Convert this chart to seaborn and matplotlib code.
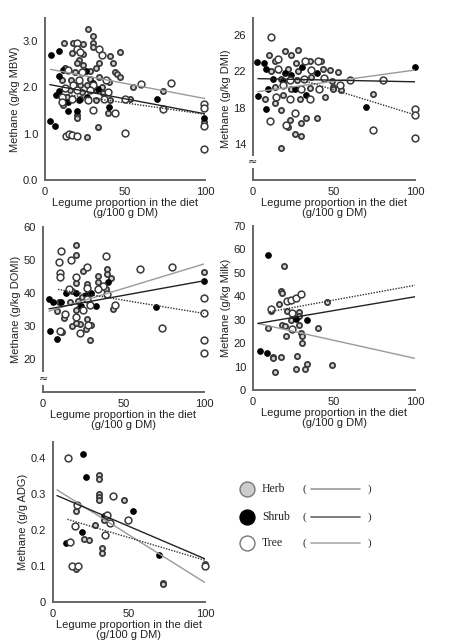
import matplotlib
matplotlib.use("Agg")
import matplotlib.pyplot as plt
import seaborn as sns
import pandas as pd

sns.set_style("white")
plt.rcParams['font.family'] = ['Liberation Sans', 'DejaVu Sans']

# ---- data: (legume %, methane) ----
mbw_herb = [(27, 3.26), (30, 3.11), (12, 2.95), (17.3, 2.95), (23.5, 2.94), (29.8, 2.95), (30, 2.88),
            (17, 2.75), (24, 2.73), (40.6, 2.68), (46.9, 2.77), (21, 2.59), (20, 2.52), (23.5, 2.48),
            (34, 2.52), (42.7, 2.52), (12.5, 2.41), (18.8, 2.34), (28, 2.36), (32, 2.41), (44, 2.34),
            (45, 2.29), (47, 2.23), (16, 2.16), (28, 2.19), (34, 2.22), (40, 2.12), (22, 2.05), (26, 2.05),
            (35.4, 2.01), (15.6, 1.94), (23, 1.91), (32, 1.94), (55, 2.0), (74, 1.93), (13.5, 1.8),
            (22, 1.76), (32, 1.73), (40.6, 1.73), (53, 1.76), (11.5, 1.62), (39.6, 1.45), (20, 1.4),
            (20, 1.33), (99.4, 1.26), (33, 1.14), (26.5, 0.92), (36.5, 1.87), (10.4, 2.16)]
mbw_tree = [(20, 2.95), (34, 2.84), (19.8, 2.84), (22, 2.77), (35.4, 2.7), (14.6, 2.37), (22.9, 2.34),
            (21, 2.16), (38, 2.16), (17.7, 2.05), (30, 2.05), (12.5, 1.98), (19.8, 1.94), (28, 1.94),
            (39.6, 1.91), (59.8, 2.07), (79, 2.09), (10.4, 1.8), (16.7, 1.76), (27, 1.73), (37, 1.74),
            (50, 1.76), (10.4, 1.69), (29.8, 1.51), (43.8, 1.44), (74, 1.53), (99.4, 1.64), (99.4, 1.55),
            (99.4, 1.17), (99.4, 0.68), (50, 1.01), (13, 0.94), (15, 1.0), (17, 0.97), (20, 0.95)]
mbw_shrub = [(3.75, 2.71), (9, 2.79), (3, 1.28), (6, 1.16), (11.5, 2.37), (9, 2.25), (9, 1.93), (7, 1.84),
             (14.6, 1.5), (14.6, 1.69), (25.4, 2.35), (33, 1.96), (30, 2.1), (26.5, 1.8), (40, 1.58),
             (70, 1.76), (99.6, 1.33), (21, 1.73), (20, 1.5)]
mbw_fit = {"Herb": [(3.5, 2.39), (100, 1.76)], "Shrub": [(3, 2.06), (100, 1.43)], "Tree": [(13, 1.85), (100, 1.42)]}

dmi_herb = [(9.7, 23.8), (13.4, 23.2), (20, 24.2), (23.7, 23.8), (27.8, 24.35), (26.8, 22.9), (35, 23.1),
            (42, 23.1), (11.3, 22.0), (21.6, 22.3), (27.8, 22.0), (43, 22.3), (47.4, 22.1), (52.6, 21.95),
            (17, 21.2), (27, 21.0), (36, 21.4), (48.5, 20.9), (13.4, 20.3), (23.7, 20.1), (35, 20.2),
            (49.5, 20.3), (7.2, 19.0), (18.6, 19.4), (29, 19.0), (44.3, 19.2), (74, 19.5), (13.4, 18.5),
            (17.5, 17.7), (33, 16.8), (39.8, 16.8), (22.7, 16.6), (29.9, 16.3), (21.6, 15.9), (25.8, 15.1),
            (29.5, 14.9), (17, 13.5), (54.6, 19.9), (49.5, 20.1)]
dmi_tree = [(11, 25.8), (15.5, 23.4), (32, 23.1), (40, 23.1), (15.5, 22.3), (36, 22.1), (23, 21.0),
            (31.4, 21.2), (44, 21.3), (53.6, 20.5), (60, 21.0), (80.4, 21.0), (18.6, 20.5), (29.9, 20.1),
            (41, 20.1), (14.4, 19.2), (22.7, 19.0), (35, 19.0), (25.8, 17.4), (10.3, 16.5), (20.6, 16.1),
            (74, 15.5), (100, 17.9), (100, 17.2), (100, 14.6)]
dmi_shrub = [(2.7, 23.06), (6.8, 22.9), (8.2, 22.3), (3, 19.3), (8.2, 17.9), (9.3, 20.0), (12.4, 21.2),
             (20, 21.85), (23.7, 21.6), (30, 22.5), (33, 19.4), (39.8, 21.85), (70, 18.1), (100, 22.5),
             (25.8, 20.1), (18.6, 20.95)]
dmi_fit = {"Herb": [(3, 19.76), (100, 22.15)], "Shrub": [(3, 21.2), (100, 20.85)], "Tree": [(13, 22.0), (100, 17.2)]}

dom_herb = [(20.3, 54.6), (20.7, 51.5), (24.9, 46.7), (39.8, 47.2), (34.2, 45.2), (39.8, 45.7), (42.5, 44.4),
            (100, 46.5), (27.4, 42.7), (34.2, 43.2), (20.3, 42.9), (18.3, 40.6), (39.4, 41.3), (24.5, 38.9),
            (21.8, 37.6), (16.6, 37.2), (43.6, 35.2), (22.4, 35.5), (8.7, 34.5), (13.1, 32.4), (27.4, 32.1),
            (18.3, 30.1), (22.8, 30.7), (30, 30.4), (26.6, 29.2), (11.6, 28.1), (29.5, 25.8), (20.7, 35.0),
            (9.8, 37.2), (20.3, 30.9)]
dom_tree = [(11.4, 52.6), (9.8, 49.5), (17.6, 50.1), (10.8, 46.2), (10.8, 44.7), (20.7, 44.7), (27.6, 47.8),
            (39.4, 51.1), (60, 47.2), (79.9, 47.8), (27.4, 41.6), (37.3, 42.0), (34.2, 41.1), (16.2, 41.1),
            (39.8, 39.6), (27.4, 38.1), (29, 36.5), (44.6, 36.5), (24.9, 35.0), (13.5, 33.5), (20.3, 32.8),
            (28.0, 30.4), (10.8, 28.4), (22.8, 27.9), (73.7, 29.4), (100, 38.6), (100, 33.8), (100, 25.8),
            (100, 21.9)]
dom_shrub = [(3.5, 38.1), (6.2, 37.2), (11.4, 37.2), (4.1, 28.4), (8.7, 26.0), (14.5, 39.9), (20.7, 39.9),
             (23.9, 36.0), (26.6, 39.3), (30, 39.9), (33.2, 36.0), (40.5, 43.2), (70, 35.7), (100, 43.7)]
dom_fit = {"Herb": [(3.7, 34.5), (100, 48.8)], "Shrub": [(3.7, 35.2), (100, 43.7)], "Tree": [(9.3, 41.1), (100, 33.8)]}

milk_herb = [(19.2, 52.8), (17.1, 42.3), (17.9, 41.2), (15.9, 36.9), (11.3, 33.8), (21.2, 33.8), (28.7, 33.4),
             (28.7, 31.5), (45.4, 37.6), (23.5, 29.8), (17.9, 27.7), (19.6, 27.3), (28.7, 27.7), (9.3, 26.3),
             (40.2, 26.3), (29.9, 24.4), (30.3, 23.0), (20.2, 23.0), (30.3, 20.2), (12.6, 14.2), (12.6, 13.5),
             (17.5, 13.9), (27.4, 14.6), (33.6, 11.1), (48.9, 10.7), (26.4, 8.9), (32.4, 8.8), (13.4, 7.5)]
milk_tree = [(21.2, 38.1), (23.3, 38.4), (26.8, 39.1), (29.9, 40.9), (10.9, 34.4), (24.3, 32.7), (24.1, 25.9)]
milk_shrub = [(9.3, 57.8), (4.5, 16.6), (8.7, 15.6), (26.8, 30.5), (33.4, 29.8)]
milk_fit = {"Herb": [(3, 28.4), (100, 13.5)], "Shrub": [(3, 28.4), (100, 39.8)], "Tree": [(10.3, 33.4), (100, 44.7)]}

adg_herb = [(30.1, 0.352), (30.1, 0.343), (30.1, 0.299), (30.1, 0.292), (30.1, 0.285), (46.8, 0.285),
            (15.4, 0.252), (33.6, 0.229), (27.9, 0.213), (20.4, 0.176), (23.7, 0.173), (32.3, 0.15),
            (32.3, 0.136), (72.5, 0.053), (72.5, 0.049), (100, 0.105), (15, 0.091)]
adg_tree = [(9.9, 0.4), (39.6, 0.294), (16, 0.269), (35.2, 0.241), (37.4, 0.219), (49.5, 0.227), (14.3, 0.21),
            (34.1, 0.185), (11.4, 0.167), (12.7, 0.1), (16.7, 0.1), (100, 0.1)]
adg_shrub = [(19.8, 0.412), (21.5, 0.347), (8.8, 0.164), (19.3, 0.194), (33.6, 0.238), (52.7, 0.253), (69.9, 0.13)]
adg_fit = {"Herb": [(2.6, 0.312), (100, 0.054)], "Shrub": [(2.6, 0.296), (100, 0.12)], "Tree": [(9.5, 0.23), (100, 0.116)]}

groups = ["Herb", "Shrub", "Tree"]
marker_style = {"Herb": dict(s=14, color="#d0d0d0", edgecolor="#3a3a3a", linewidth=1.3),
                "Shrub": dict(s=16, color="black", edgecolor="black", linewidth=0.8),
                "Tree": dict(s=24, color="white", edgecolor="#3a3a3a", linewidth=1.1)}
line_style = {"Herb": dict(color="#9a9a9a", linestyle="-", linewidth=1.0),
              "Shrub": dict(color="#222222", linestyle="-", linewidth=1.0),
              "Tree": dict(color="#333333", linestyle=(0, (1, 1)), linewidth=1.0)}

panels = [
    dict(pts=[mbw_herb, mbw_shrub, mbw_tree], fit=mbw_fit, pos=[45, 18, 205, 180], ylim=(0, 3.5),
         yticks=[0, 1, 2, 3], ylabs=["0.0", "1.0", "2.0", "3.0"], ylabel="Methane (g/kg MBW)", brk=None),
    dict(pts=[dmi_herb, dmi_shrub, dmi_tree], fit=dmi_fit, pos=[253, 18, 415, 180], ylim=(10, 27.9),
         yticks=[14, 18, 22, 26], ylabs=["14", "18", "22", "26"], ylabel="Methane (g/kg DMI)", brk=12),
    dict(pts=[dom_herb, dom_shrub, dom_tree], fit=dom_fit, pos=[43, 227, 204, 392], ylim=(10, 60),
         yticks=[20, 30, 40, 50, 60], ylabs=["20", "30", "40", "50", "60"], ylabel="Methane (g/kg DOMI)", brk=14),
    dict(pts=[milk_herb, milk_shrub, milk_tree], fit=milk_fit, pos=[253, 226, 415, 390], ylim=(0, 70),
         yticks=list(range(0, 71, 10)), ylabs=[str(v) for v in range(0, 71, 10)], ylabel="Methane (g/kg Milk)",
         brk=None),
    dict(pts=[adg_herb, adg_shrub, adg_tree], fit=adg_fit, pos=[53, 442, 205, 602], ylim=(0, 0.445),
         yticks=[0, 0.1, 0.2, 0.3, 0.4], ylabs=["0", "0.1", "0.2", "0.3", "0.4"], ylabel="Methane (g/g ADG)",
         brk=None),
]

W, H = 450, 644
fig = plt.figure(figsize=(W / 100, H / 100), dpi=100)
txt = "#222222"

for p in panels:
    l, t, r, b = p["pos"]
    ax = fig.add_axes([l / W, 1 - b / H, (r - l) / W, (b - t) / H])
    for g, pts in zip(groups, p["pts"]):
        df = pd.DataFrame(pts, columns=["x", "y"])
        sns.scatterplot(data=df, x="x", y="y", ax=ax, zorder=3, clip_on=False, **marker_style[g])
    for g in groups:
        fl = pd.DataFrame(p["fit"][g], columns=["x", "y"])
        ax.plot(fl["x"], fl["y"], zorder=4, **line_style[g])
    ax.set_xlim(0, 100)
    ax.set_ylim(*p["ylim"])
    ax.set_xticks([0, 50, 100])
    ax.set_yticks(p["yticks"])
    ax.set_yticklabels(p["ylabs"])
    ax.tick_params(length=0, labelsize=8, colors=txt, pad=5)
    for s in ["top", "right"]:
        ax.spines[s].set_visible(False)
    for s in ["left", "bottom"]:
        ax.spines[s].set_color("#666666")
        ax.spines[s].set_linewidth(1.4)
    ax.set_xlabel("Legume proportion in the diet\n(g/100 g DM)", fontsize=8, color=txt, labelpad=1,
                  linespacing=1.0)
    ax.set_ylabel(p["ylabel"], fontsize=8, color=txt, labelpad=2)
    if p["brk"] is not None:
        ax.text(0, p["brk"], "≈", fontsize=8, ha="center", va="center", color=txt,
                bbox=dict(facecolor="white", edgecolor="none", pad=1), zorder=5, clip_on=False,
                family=["DejaVu Sans"])

# legend drawn in pixel space
lax = fig.add_axes([0, 0, 1, 1])
lax.set_xlim(0, W)
lax.set_ylim(H, 0)
lax.axis("off")
leg_y = [489, 517, 543]
leg_face = {"Herb": "#cccccc", "Shrub": "black", "Tree": "white"}
leg_edge = {"Herb": "#777777", "Shrub": "black", "Tree": "#777777"}
leg_line = {"Herb": "#9a9a9a", "Shrub": "#666666", "Tree": "#aaaaaa"}
for g, yy in zip(groups, leg_y):
    lax.scatter([247], [yy], s=115, color=leg_face[g], edgecolor=leg_edge[g], linewidth=1.0)
    lax.text(262, yy, g, fontsize=8.5, va="center", ha="left", family=["Liberation Serif"], color="#222222")
    lax.text(304, yy, "(", fontsize=8, va="center", ha="center", family=["Liberation Serif"], color="#222222")
    lax.text(369, yy, ")", fontsize=8, va="center", ha="center", family=["Liberation Serif"], color="#222222")
    lax.plot([311, 360], [yy, yy], color=leg_line[g], linewidth=1.2)

fig.savefig("out.png", dpi=100)
